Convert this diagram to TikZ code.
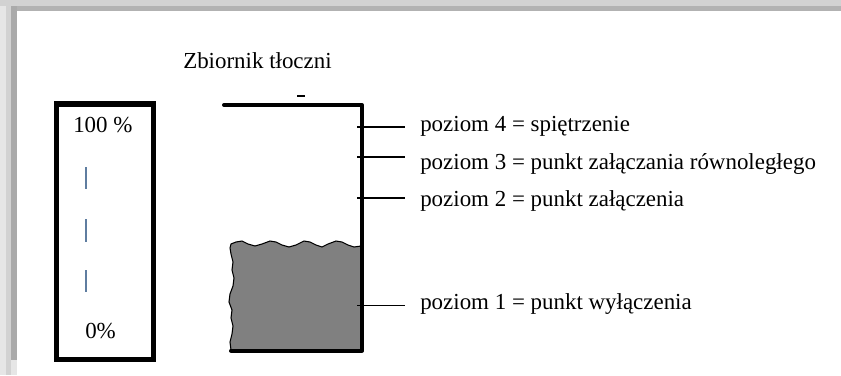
\documentclass[tikz,border=0pt]{standalone}
\usepackage{fontspec}
\setmainfont{Liberation Serif}
\definecolor{liquid}{RGB}{128,128,128}
\definecolor{scaletick}{RGB}{95,125,160}
\definecolor{shadeA}{RGB}{230,230,230}
\definecolor{shadeB}{RGB}{210,210,210}
\definecolor{shadeC}{RGB}{170,170,170}
\definecolor{shadeD}{RGB}{178,178,178}
\tikzset{
  wall/.style={line width=3pt, line cap=round, line join=round},
  gaugebox/.style={line width=3.8pt},
  levelline/.style={line width=0.8pt},
  lbl/.style={anchor=base west, inner sep=0pt, font=\fontsize{17.2}{20}\selectfont},
  tickmark/.style={scaletick, line width=0.9pt}
}
\begin{document}
\begin{tikzpicture}[x=0.75pt,y=-0.75pt]
  % page frame with soft shadow
  \fill[shadeA] (0,0) rectangle (841,375);
  \fill[shadeB] (6,0) rectangle (11,375);
  \fill[shadeC] (11,6) rectangle (17,360);
  \fill[shadeB] (0,0) rectangle (841,6);
  \fill[shadeD] (17,6) rectangle (841,11);
  \fill[white] (17,11) rectangle (841,375);
  \useasboundingbox (0,0) rectangle (841,375);

  % level gauge
  \draw[gaugebox] (56.5,104) rectangle (153.5,359.5);
  \node[lbl] (full) at (73,132) {100 \%};
  \node[lbl] (empty) at (85,338) {0\%};
  \draw[tickmark] (86,167) -- (86,189);
  \draw[tickmark] (86,219) -- (86,242);
  \draw[tickmark] (86,270) -- (86,292);

  % tank title
  \node[lbl] (title) at (183,68) {Zbiornik tłoczni};
  \draw[line width=0.8pt] (297,96) -- (305,96);

  % liquid with rough surface
  \draw[fill=liquid, line width=0.8pt]
    (231,350) -- (230,342) -- (232,334) -- (233,326) -- (231,318) -- (232,310)
    -- (229,302) -- (230,294) -- (233,286) -- (234,278) -- (232,270)
    -- (233,262) -- (231,254) -- (230,248) -- (231,244)
    -- (236,242) -- (242,241) -- (248,244) -- (255,246) -- (262,244)
    -- (270,241) -- (276,242) -- (282,245) -- (289,247) -- (296,245)
    -- (304,241) -- (310,242) -- (316,245) -- (322,247) -- (328,244)
    -- (336,241) -- (342,242) -- (348,245) -- (354,247) -- (361,246)
    -- (361,350) -- cycle;

  % tank walls
  \draw[wall] (224,105) -- (362,105) -- (362,350.5) -- (231,350.5);

  % level sensors
  \coordinate (w4) at (357,127);
  \coordinate (w3) at (357,157);
  \coordinate (w2) at (357,198);
  \coordinate (w1) at (357,305.5);
  \coordinate (e4) at (405,127);
  \coordinate (e3) at (405,157);
  \coordinate (e2) at (405,198);
  \coordinate (e1) at (405,305.5);
  \node[lbl] (l4) at (420,131.5) {poziom 4 = spiętrzenie};
  \node[lbl] (l3) at (420,169) {poziom 3 = punkt załączania równoległego};
  \node[lbl] (l2) at (420,206) {poziom 2 = punkt załączenia};
  \node[lbl] (l1) at (420,309) {poziom 1 = punkt wyłączenia};
  \draw[levelline] (w4) -- (e4);
  \draw[levelline] (w3) -- (e3);
  \draw[levelline] (w2) -- (e2);
  \draw[levelline] (w1) -- (e1);
\end{tikzpicture}
\end{document}
